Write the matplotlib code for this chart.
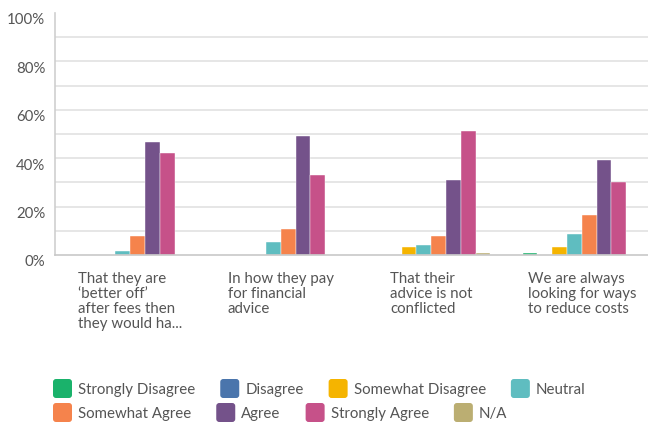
import matplotlib; matplotlib.use('Agg')
import matplotlib.pyplot as plt
from matplotlib.patches import FancyBboxPatch
from matplotlib.transforms import ScaledTranslation, IdentityTransform
import numpy as np

# ── data (percent of respondents) ────────────────────────────────────────────
categories = ["That they are\n\u2018better off\u2019\nafter fees then\nthey would ha...",
              "In how they pay\nfor financial\nadvice",
              "That their\nadvice is not\nconflicted",
              "We are always\nlooking for ways\nto reduce costs"]
answers = ['Strongly Disagree','Disagree','Somewhat Disagree','Neutral',
           'Somewhat Agree','Agree','Strongly Agree','N/A']
strongly_disagree = [0.0, 0.0, 0.0, 0.8]
disagree          = [0.0, 0.0, 0.0, 0.0]
somewhat_disagree = [0.0, 0.0, 3.3, 3.3]
neutral           = [1.8, 5.2, 4.3, 8.7]
somewhat_agree    = [7.7, 10.7, 7.7, 16.7]
agree             = [46.6, 49.2, 31.1, 39.1]
strongly_agree    = [42.1, 33.2, 51.1, 30.2]
not_applicable    = [0.0, 0.0, 0.8, 0.0]
series = [strongly_disagree, disagree, somewhat_disagree, neutral,
          somewhat_agree, agree, strongly_agree, not_applicable]
colors = ['#1AB26B','#4A75AC','#F5B400','#5FBDC0',
          '#F5834C','#74528A','#C65189','#BBAE72']
yticks = [0, 20, 40, 60, 80, 100]

TXT = '#555555'
FS = 10.8
plt.rcParams['font.family'] = ['Lato', 'DejaVu Sans']

fig = plt.figure(figsize=(6.48, 4.25), dpi=100)
W, H = 648, 425
ax = fig.add_axes([55/W, 1-255/H, 602/W, 242/H])

x = np.arange(len(categories))
slot = 0.787/len(series)
for i, (vals, c) in enumerate(zip(series, colors)):
    ax.bar(x - 0.787/2 + slot*(i+0.5), vals, width=slot, color=c,
           edgecolor='#ffffff', linewidth=0.3, zorder=3)

ax.set_xlim(-0.5, 3.5)
ax.set_ylim(0, 100)
ax.set_xticks([])

# gridlines every 10%, labels every 20%
ax.set_yticks(range(0, 101, 10))
ax.set_yticklabels([f'{v}%' if v in yticks else '' for v in range(0, 101, 10)],
                   fontsize=FS, color=TXT)
ax.tick_params(axis='y', length=0, pad=7)
ax.yaxis.grid(True, color='#e6e6e6', linewidth=1.4, zorder=0)
ax.yaxis.get_gridlines()[-1].set_visible(False)
ax.yaxis.get_gridlines()[0].set_visible(False)
for lab in ax.get_yticklabels():
    lab.set_transform(lab.get_transform() + ScaledTranslation(0, -6/100, fig.dpi_scale_trans))

for s in ['top', 'right']:
    ax.spines[s].set_visible(False)
ax.spines['left'].set_color('#cfcfcf'); ax.spines['left'].set_linewidth(1.2)
ax.spines['bottom'].set_color('#c8c8c8'); ax.spines['bottom'].set_linewidth(1.2)
ax.spines['bottom'].set_zorder(4)

# category labels under groups
for xi, lab in zip(x, categories):
    ax.annotate(lab, xy=(xi, 0), xycoords=('data', 'axes fraction'),
                xytext=(0, -17), textcoords='offset pixels',
                ha='center', va='top', multialignment='left',
                fontsize=FS, color=TXT, linespacing=1.1)

# legend: two flowing rows of rounded swatches
rend = fig.canvas.get_renderer()
rows = [answers[:4], answers[4:]]
row_y = [388.5, 412.5]
k = 0
for names, yc in zip(rows, row_y):
    xp = 53
    yd = H - yc
    for name in names:
        sw = FancyBboxPatch((xp, yd-9.5), 19, 19, boxstyle='round,pad=0,rounding_size=3',
                            transform=IdentityTransform(), facecolor=colors[k],
                            edgecolor='none', figure=fig)
        fig.patches.append(sw)
        t = fig.text((xp+25)/W, yd/H, name, ha='left', va='center_baseline',
                     fontsize=FS, color=TXT)
        bb = t.get_window_extent(renderer=rend)
        xp = bb.x1 + 25
        k += 1

fig.savefig('out.png', dpi=100)
